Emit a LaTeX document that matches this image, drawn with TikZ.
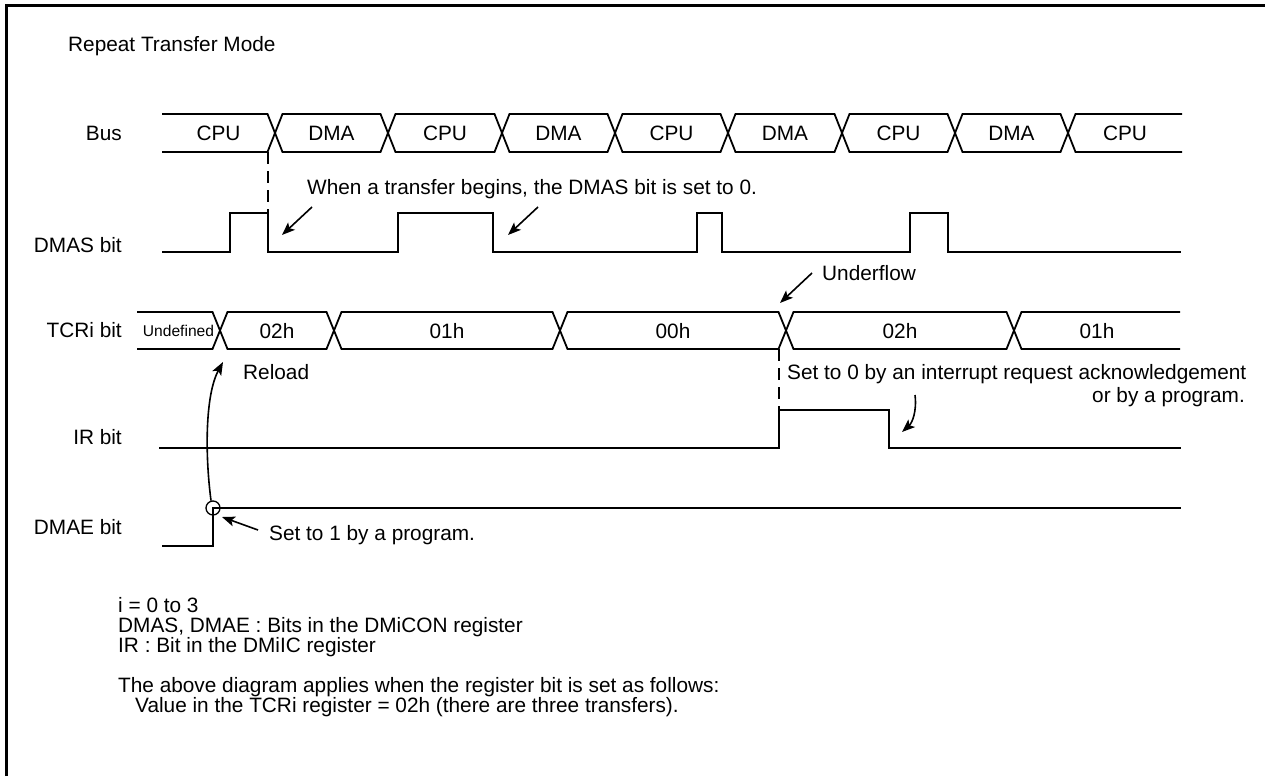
\documentclass[tikz,border=0pt]{standalone}
\usepackage{fontspec}
\setmainfont{Liberation Sans}
\usetikzlibrary{arrows.meta}
\begin{document}
\begin{tikzpicture}[x=1pt,y=-1pt,
  wave/.style={line width=1.8pt, line join=miter},
  txt/.style={inner sep=0pt, font=\fontsize{20.8}{24}\selectfont},
  smalltxt/.style={inner sep=0pt, font=\fontsize{15.6}{18}\selectfont},
  guide/.style={line width=2.2pt, dash pattern=on 12pt off 7pt},
  arr/.style={line width=1.6pt, -{Stealth[length=13pt,width=10pt,inset=3pt]}},
  frameline/.style={line width=3pt},
]
\useasboundingbox (0,0) rectangle (1265,776);
% frame
\draw[frameline] (6.5,776) -- (6.5,5.5) -- (1265,5.5);

% title
\node[txt, anchor=base west] (title) at (68,52) {Repeat Transfer Mode};

% row labels
\node[txt, anchor=base east] (lbus) at (122,140) {Bus};
\node[txt, anchor=base east] (ldmas) at (122,252) {DMAS bit};
\node[txt, anchor=base east] (ltcr) at (122,337) {TCRi bit};
\node[txt, anchor=base east] (lir) at (122,444) {IR bit};
\node[txt, anchor=base east] (ldmae) at (122,534) {DMAE bit};

% Bus waveform
\draw[wave] (162,114) -- (267.5,114) -- (282.5,152) -- (380.5,152) -- (395.5,114) -- (494.5,114) -- (509.5,152) -- (607.5,152) -- (622.5,114) -- (720.5,114) -- (735.5,152) -- (834.5,152) -- (849.5,114) -- (947.5,114) -- (962.5,152) -- (1060.5,152) -- (1075.5,114) -- (1182,114);
\draw[wave] (162,152) -- (267.5,152) -- (282.5,114) -- (380.5,114) -- (395.5,152) -- (494.5,152) -- (509.5,114) -- (607.5,114) -- (622.5,152) -- (720.5,152) -- (735.5,114) -- (834.5,114) -- (849.5,152) -- (947.5,152) -- (962.5,114) -- (1060.5,114) -- (1075.5,152) -- (1182,152);
\node[txt, anchor=base] (b1) at (218.5,140) {CPU};
\node[txt, anchor=base] (b2) at (331.5,140) {DMA};
\node[txt, anchor=base] (b3) at (445,140) {CPU};
\node[txt, anchor=base] (b4) at (558.5,140) {DMA};
\node[txt, anchor=base] (b5) at (671.5,140) {CPU};
\node[txt, anchor=base] (b6) at (785,140) {DMA};
\node[txt, anchor=base] (b7) at (898.5,140) {CPU};
\node[txt, anchor=base] (b8) at (1011.5,140) {DMA};
\node[txt, anchor=base] (b9) at (1125,140) {CPU};

% DMAS waveform
\draw[wave] (162,252) -- (230,252) -- (230,213) -- (268,213) -- (268,252) -- (398,252) -- (398,213) -- (493,213) -- (493,252) -- (697,252) -- (697,213) -- (722,213) -- (722,252) -- (910,252) -- (910,213) -- (948,213) -- (948,252) -- (1181,252);
\coordinate (busx) at (268,152);
\coordinate (dmasfall) at (268,213);
\draw[guide] (busx) -- (dmasfall);
\node[txt, anchor=base west] (when) at (307,194) {When a transfer begins, the DMAS bit is set to 0.};
\coordinate (a1s) at (312,207);
\coordinate (a1e) at (282,235);
\coordinate (a2s) at (538,207);
\coordinate (a2e) at (508,235);
\draw[arr] (a1s) -- (a1e);
\draw[arr] (a2s) -- (a2e);

% TCRi waveform
\draw[wave] (137,312) -- (212.5,312) -- (227.5,349) -- (326.5,349) -- (341.5,312) -- (552.5,312) -- (567.5,349) -- (778.5,349) -- (793.5,312) -- (1006.5,312) -- (1021.5,349) -- (1180,349);
\draw[wave] (137,349) -- (212.5,349) -- (227.5,312) -- (326.5,312) -- (341.5,349) -- (552.5,349) -- (567.5,312) -- (778.5,312) -- (793.5,349) -- (1006.5,349) -- (1021.5,312) -- (1180,312);
\node[smalltxt, anchor=base] (t0) at (178.5,336) {Undefined};
\node[txt, anchor=base] (t1) at (277,338) {02h};
\node[txt, anchor=base] (t2) at (447,338) {01h};
\node[txt, anchor=base] (t3) at (673,338) {00h};
\node[txt, anchor=base] (t4) at (900,338) {02h};
\node[txt, anchor=base] (t5) at (1097,338) {01h};
\node[txt, anchor=base west] (under) at (822,280) {Underflow};
\coordinate (u1s) at (812,273);
\coordinate (u1e) at (780,303);
\draw[arr] (u1s) -- (u1e);
\node[txt, anchor=base west] (reload) at (243,379) {Reload};

% IR waveform
\draw[wave] (159,448) -- (779,448) -- (779,410) -- (889,410) -- (889,448) -- (1181,448);
\coordinate (tcrx) at (779,349);
\coordinate (irrise) at (779,410);
\draw[guide] (tcrx) -- (irrise);
\node[txt, anchor=base west] (set0) at (787,379) {Set to 0 by an interrupt request acknowledgement};
\node[txt, anchor=base east] (orprog) at (1245,402) {or by a program.};
\coordinate (irs) at (915,395);
\coordinate (ire) at (902,432);
\draw[arr] (irs) .. controls (917,412) and (912,423) .. (ire);

% DMAE waveform
\draw[wave] (162,546) -- (213,546) -- (213,508) -- (1181,508);
\node[draw, circle, line width=1.3pt, minimum size=14pt, inner sep=0pt] (dmaec) at (213,508) {};
\coordinate (reloadtip) at (223,362);
\draw[arr] (dmaec.105) .. controls (205,455) and (205,395) .. (reloadtip);
\node[txt, anchor=base west] (set1) at (269,540) {Set to 1 by a program.};
\coordinate (d1s) at (258,530);
\coordinate (d1e) at (222,517);
\draw[arr] (d1s) -- (d1e);

% notes
\node[txt, anchor=base west] (n1) at (118,612) {i = 0 to 3};
\node[txt, anchor=base west] (n2) at (118,632) {DMAS, DMAE : Bits in the DMiCON register};
\node[txt, anchor=base west] (n3) at (118,652) {IR : Bit in the DMiIC register};
\node[txt, anchor=base west] (n4) at (118,692) {The above diagram applies when the register bit is set as follows:};
\node[txt, anchor=base west] (n5) at (135,712) {Value in the TCRi register = 02h (there are three transfers).};
\end{tikzpicture}
\end{document}
